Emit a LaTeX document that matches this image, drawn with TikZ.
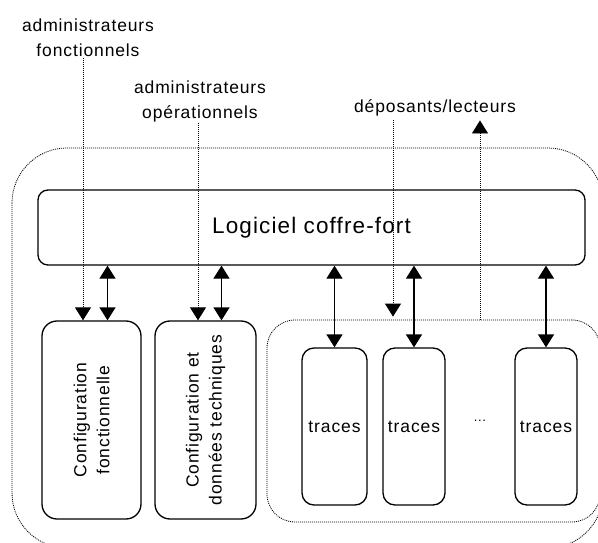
\documentclass[tikz,border=0pt]{standalone}
\usepackage{fontspec}
\setmainfont[LetterSpace=5]{Liberation Sans}
\usetikzlibrary{arrows.meta}
\begin{document}
\begin{tikzpicture}[x=1pt,y=-1pt,
    boite/.style={draw,line width=1.3pt,rounded corners=#1,inner sep=0pt},
    pointille/.style={line width=0.8pt,dash pattern=on 1pt off 1pt},
    tete/.style={-{Triangle[width=16pt,length=13pt]}},
    double/.style={{Triangle[width=16pt,length=13pt]}-{Triangle[width=16pt,length=13pt]},line width=1.3pt},
    legende/.style={font=\fontsize{17.5}{25}\selectfont,align=center,inner sep=1pt},
    texte/.style={font=\fontsize{17.5}{23}\selectfont,align=center,inner sep=0pt}]
            \useasboundingbox (0,0) rectangle (598,543);
            \draw[pointille,rounded corners=55pt] (12,148) rectangle (603,548);
            \node[pointille,draw,rounded corners=28pt,minimum width=333pt,minimum height=202pt,inner sep=0pt] (groupe) at (433.5,421) {};
            \node[boite=10pt,minimum width=547pt,minimum height=75pt,font=\fontsize{22.5}{25}\selectfont] (logiciel) at (311.5,227.5) {Logiciel coffre-fort};
            \node[boite=15pt,minimum width=99pt,minimum height=198pt] (conffonct) at (91.5,420) {};
            \node[boite=15pt,minimum width=101pt,minimum height=198pt] (confop) at (205.5,420) {};
            \node[texte,rotate=90] at (conffonct) {Configuration\\fonctionnelle};
            \node[texte,rotate=90] at (confop) {Configuration et\\données techniques};
            \node[boite=12pt,minimum width=65pt,minimum height=157pt,font=\fontsize{17.5}{20}\selectfont] (traces1) at (334.5,426.5) {traces};
            \node[boite=12pt,minimum width=62pt,minimum height=157pt,font=\fontsize{17.5}{20}\selectfont] (traces2) at (414,426.5) {traces};
            \node[boite=12pt,minimum width=62pt,minimum height=157pt,font=\fontsize{17.5}{20}\selectfont] (traces3) at (546,426.5) {traces};
            \node[font=\fontsize{13}{14}\selectfont] (points) at (480,421) {...};
            \node[legende] (adminf) at (88,38) {administrateurs\\fonctionnels};
            \node[legende] (admino) at (200,101) {administrateurs\\opérationnels};
            \node[legende,inner sep=4pt] (deplect) at (435,108) {déposants/lecteurs};
            \coordinate (xf) at (83,0);
            \coordinate (xo) at (198,0);
            \coordinate (xd) at (393,0);
            \coordinate (xl) at (480,0);
            \draw[pointille,tete] (adminf.south -| xf) -- (xf |- conffonct.north);
            \draw[pointille,tete] (admino.south -| xo) -- (xo |- confop.north);
            \draw[pointille,tete,shorten >=3pt] (deplect.south -| xd) -- (xd |- groupe.north);
            \draw[pointille,tete] (xl |- groupe.north) -- (deplect.south -| xl);
            \draw[double] ([xshift=16pt]conffonct.north |- logiciel.south) -- ([xshift=16pt]conffonct.north);
            \draw[double] ([xshift=16pt]confop.north |- logiciel.south) -- ([xshift=16pt]confop.north);
            \draw[double] (traces1.north |- logiciel.south) -- (traces1.north);
            \draw[double] (traces2.north |- logiciel.south) -- (traces2.north);
            \draw[double] (traces3.north |- logiciel.south) -- (traces3.north);
        \end{tikzpicture}
\end{document}
